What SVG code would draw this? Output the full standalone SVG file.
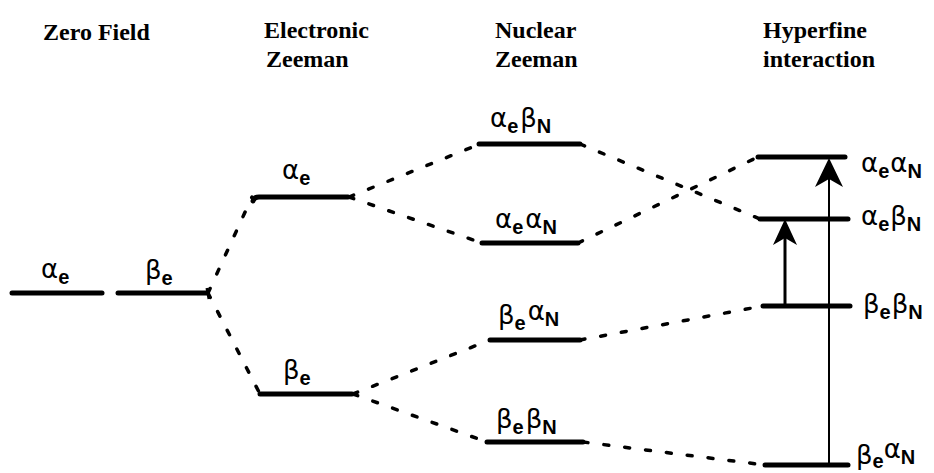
<svg xmlns="http://www.w3.org/2000/svg" width="934" height="473" viewBox="0 0 934 473">
<style>
.title{font-family:"Liberation Serif","Times New Roman",serif;font-weight:bold;font-size:24px;fill:#000}
.lvl{stroke:#000;stroke-width:5;stroke-linecap:round;fill:none}
.dash{stroke:#000;stroke-width:3.5;stroke-linecap:round;stroke-dasharray:5 16;fill:none}
.lab{font-family:"DejaVu Sans","Liberation Sans",sans-serif;font-size:26px;fill:#000}
.s{font-family:"Liberation Sans",Arial,sans-serif;font-weight:bold;font-size:20px}
.arr{stroke:#000;fill:none}
</style>
<rect width="934" height="473" fill="#fff"/>
<g id="titles">
<text class="title" x="43" y="40">Zero Field</text>
<text class="title" x="264" y="38">Electronic</text>
<text class="title" x="266" y="67">Zeeman</text>
<text class="title" x="495" y="38">Nuclear</text>
<text class="title" x="495" y="67">Zeeman</text>
<text class="title" x="763" y="38">Hyperfine</text>
<text class="title" x="763" y="67">interaction</text>
</g>
<g id="connectors">
<line class="dash" x1="208" y1="293" x2="252" y2="197"/>
<line class="dash" x1="208" y1="293" x2="260" y2="394"/>
<line class="dash" x1="349" y1="197" x2="480" y2="144"/>
<line class="dash" x1="349" y1="197" x2="482" y2="243"/>
<line class="dash" x1="353" y1="394" x2="490" y2="340"/>
<line class="dash" x1="353" y1="394" x2="487" y2="442"/>
<line class="dash" x1="580" y1="144" x2="760" y2="219"/>
<line class="dash" x1="578" y1="243" x2="758" y2="157"/>
<line class="dash" x1="580" y1="340" x2="763" y2="306"/>
<line class="dash" x1="583" y1="442" x2="765" y2="465"/>
</g>
<g id="zero-alpha-e">
<line class="lvl" x1="12" y1="293" x2="102" y2="293"/>
<text class="lab" x="41" y="278">α<tspan class="s" dy="6">e</tspan></text>
</g>
<g id="zero-beta-e">
<line class="lvl" x1="118" y1="293" x2="207" y2="293"/>
<line stroke="#000" stroke-width="3" x1="207" y1="288" x2="209" y2="299"/>
<text class="lab" x="145" y="279">β<tspan class="s" dy="6">e</tspan></text>
</g>
<g id="el-alpha-e">
<path class="lvl" d="M253,201 Q254,197 259,197 L348,197"/>
<text class="lab" x="282" y="179">α<tspan class="s" dy="6">e</tspan></text>
</g>
<g id="el-beta-e">
<line class="lvl" x1="260" y1="394" x2="352" y2="394"/>
<text class="lab" x="283" y="379">β<tspan class="s" dy="6">e</tspan></text>
</g>
<g id="nu-ae-bN">
<line class="lvl" x1="479" y1="144" x2="580" y2="144"/>
<text class="lab" x="490" y="127">α<tspan class="s" dy="6">e</tspan><tspan dy="-6" dx="2">β</tspan><tspan class="s" dy="6">N</tspan></text>
</g>
<g id="nu-ae-aN">
<line class="lvl" x1="482" y1="243" x2="578" y2="243"/>
<text class="lab" x="495" y="228">α<tspan class="s" dy="6">e</tspan><tspan dy="-6" dx="2">α</tspan><tspan class="s" dy="6">N</tspan></text>
</g>
<g id="nu-be-aN">
<line class="lvl" x1="490" y1="340" x2="580" y2="340"/>
<text class="lab" x="498" y="324">β<tspan class="s" dy="6">e</tspan><tspan dy="-10" dx="2">α</tspan><tspan class="s" dy="6">N</tspan></text>
</g>
<g id="nu-be-bN">
<line class="lvl" x1="487" y1="442" x2="583" y2="442"/>
<text class="lab" x="496" y="428">β<tspan class="s" dy="6">e</tspan><tspan dy="-6" dx="2">β</tspan><tspan class="s" dy="6">N</tspan></text>
</g>
<g id="hf-ae-aN">
<line class="lvl" x1="758" y1="157" x2="845" y2="157"/>
<text class="lab" x="861" y="172">α<tspan class="s" dy="6">e</tspan><tspan dy="-6" dx="1">α</tspan><tspan class="s" dy="6">N</tspan></text>
</g>
<g id="hf-ae-bN">
<line class="lvl" x1="760" y1="219" x2="848" y2="219"/>
<text class="lab" x="861" y="225">α<tspan class="s" dy="6">e</tspan><tspan dy="-6" dx="1">β</tspan><tspan class="s" dy="6">N</tspan></text>
</g>
<g id="hf-be-bN">
<line class="lvl" x1="763" y1="306" x2="850" y2="306"/>
<text class="lab" x="863" y="313">β<tspan class="s" dy="6">e</tspan><tspan dy="-6" dx="1">β</tspan><tspan class="s" dy="6">N</tspan></text>
</g>
<g id="hf-be-aN">
<line class="lvl" x1="765" y1="465" x2="848" y2="465"/>
<text class="lab" x="856" y="464">β<tspan class="s" dy="4">e</tspan><tspan dy="-10" dx="0">α</tspan><tspan class="s" dy="6">N</tspan></text>
</g>
<g id="transitions">
<line class="arr" x1="785" y1="306" x2="785" y2="236" stroke-width="3"/>
<path d="M785,219 L797,245 L785,238 L773,245 Z" fill="#000"/>
<line class="arr" x1="829" y1="465" x2="829" y2="178" stroke-width="2"/>
<path d="M829,158 L843,187 L829,179 L815,187 Z" fill="#000"/>
</g>
</svg>
